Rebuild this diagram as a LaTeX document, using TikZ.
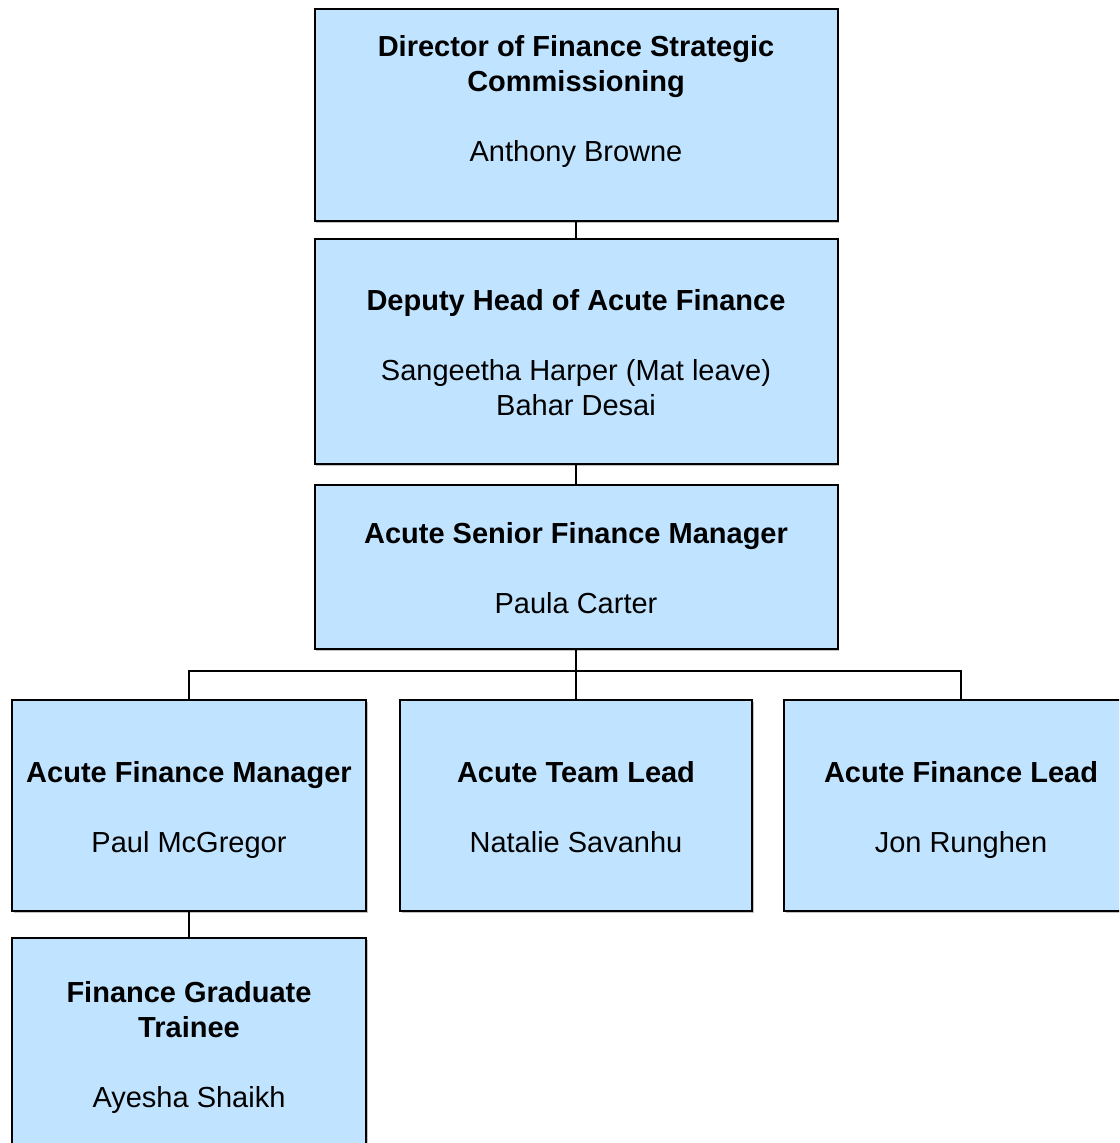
\documentclass[tikz,border=0pt]{standalone}
\usepackage{fontspec}
\setmainfont{Liberation Sans}
\usetikzlibrary{shadows}
\definecolor{postblue}{RGB}{192,228,255}
\newcommand{\capgap}{\rule{0pt}{17pt}}

\begin{document}
\begin{tikzpicture}[x=0.5pt, y=-0.5pt,
  post/.style={draw=black, line width=1pt, fill=postblue, align=center, inner sep=0pt,
    font=\fontsize{14.5}{17.5}\selectfont,
    drop shadow={shadow xshift=0.9pt, shadow yshift=-0.9pt, fill=black!40, opacity=0.6}},
  link/.style={draw=black, line width=1pt}]
\useasboundingbox (0,0) rectangle (1119,1143);
\clip (0,0) rectangle (1119,1143);
\node[post, minimum width=261.5pt, minimum height=106pt] (N0) at (576,115) {\capgap\textbf{Director of Finance Strategic}\\\textbf{Commissioning}\\[17.5pt]Anthony Browne\\\strut};
\node[post, minimum width=261.5pt, minimum height=112.5pt] (N1) at (576,351.5) {\capgap\textbf{Deputy Head of Acute Finance}\\[17.5pt]Sangeetha Harper (Mat leave)\\Bahar Desai\strut};
\node[post, minimum width=261.5pt, minimum height=82pt] (N2) at (576,567) {\capgap\textbf{Acute Senior Finance Manager}\\[17.5pt]Paula Carter\strut};
\node[post, minimum width=177pt, minimum height=105.5pt] (N3) at (189,805.5) {\capgap\textbf{Acute Finance Manager}\\[17.5pt]Paul McGregor\strut};
\node[post, minimum width=176pt, minimum height=105.5pt] (N4) at (576,805.5) {\capgap\textbf{Acute Team Lead}\\[17.5pt]Natalie Savanhu\strut};
\node[post, minimum width=177pt, minimum height=105.5pt] (N5) at (961,805.5) {\capgap\textbf{Acute Finance Lead}\\[17.5pt]Jon Runghen\strut};
\node[post, minimum width=177pt, minimum height=105.5pt] (N6) at (189,1043.5) {\capgap\textbf{Finance Graduate}\\\textbf{Trainee}\\[17.5pt]Ayesha Shaikh\strut};
\draw[link] (N0) -- (N1);
\draw[link] (N1) -- (N2);
\draw[link] (N2) -- (N4);
\draw[link] (N3.north) -- ++(0,-28) -| (N5.north);
\draw[link] (N3) -- (N6);
\end{tikzpicture}
\end{document}
